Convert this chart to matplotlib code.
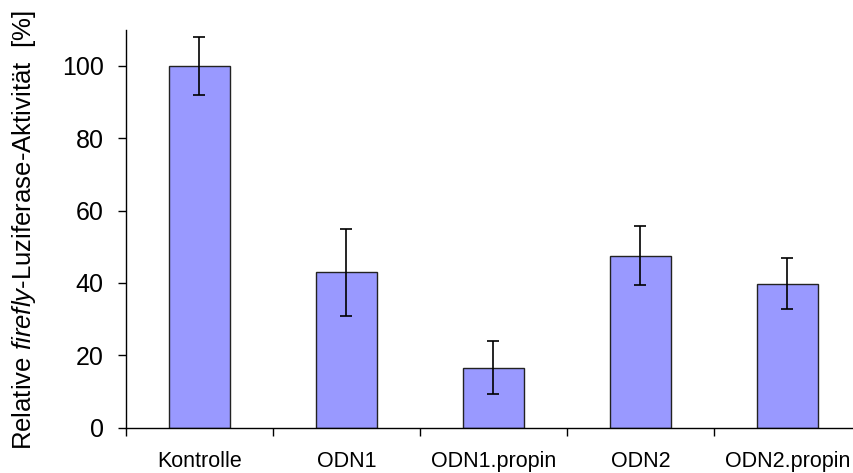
import matplotlib
matplotlib.use("Agg")
from matplotlib import pyplot as plt
import numpy as np

# font setup: Arial-like text, italic "firefly" via mathtext
plt.rcParams['font.family'] = ['Liberation Sans', 'DejaVu Sans']
plt.rcParams['mathtext.fontset'] = 'custom'
plt.rcParams['mathtext.rm'] = 'Liberation Sans'
plt.rcParams['mathtext.it'] = 'Liberation Sans:italic'

# data
categories = ['Kontrolle', 'ODN1', 'ODN1.propin', 'ODN2', 'ODN2.propin']
activity = [100, 43, 16.6, 47.5, 39.8]
error = [8, 12, 7.3, 8.2, 7]

fig = plt.figure(figsize=(8.54, 4.73), dpi=100)
ax = fig.add_axes([0.1475, 0.0958, 0.8607, 0.8414])

x = np.arange(len(categories)) + 0.5
ax.bar(x, activity, width=0.41, color='#9999ff', edgecolor='#222222', linewidth=1.0, zorder=2)
ax.errorbar(x, activity, yerr=error, fmt='none', ecolor='black', elinewidth=1.2,
            capsize=4.5, capthick=1.2, zorder=3)

ax.set_xlim(0, len(categories))
ax.set_ylim(0, 110)
ax.set_yticks([0, 20, 40, 60, 80, 100])

# category boundaries get the tick marks, names sit between them
ax.set_xticks(np.arange(len(categories) + 1))
ax.set_xticklabels([])
ax.set_xticks(x, minor=True)
ax.set_xticklabels(categories, minor=True, fontsize=15.5)
ax.tick_params(axis='x', which='minor', length=0, pad=17)
ax.tick_params(axis='x', which='major', direction='out', length=6, width=1)
ax.tick_params(axis='y', direction='out', length=6, width=1, labelsize=18, pad=10)

for s in ['top', 'right']:
    ax.spines[s].set_visible(False)
for s in ['left', 'bottom']:
    ax.spines[s].set_linewidth(1)

ax.set_ylabel('Relative $\\it{firefly}$-Luziferase-Aktivität  [%]', fontsize=18.5)
ax.yaxis.set_label_coords(-0.12, 0.495)

plt.savefig('out.png', dpi=100)
